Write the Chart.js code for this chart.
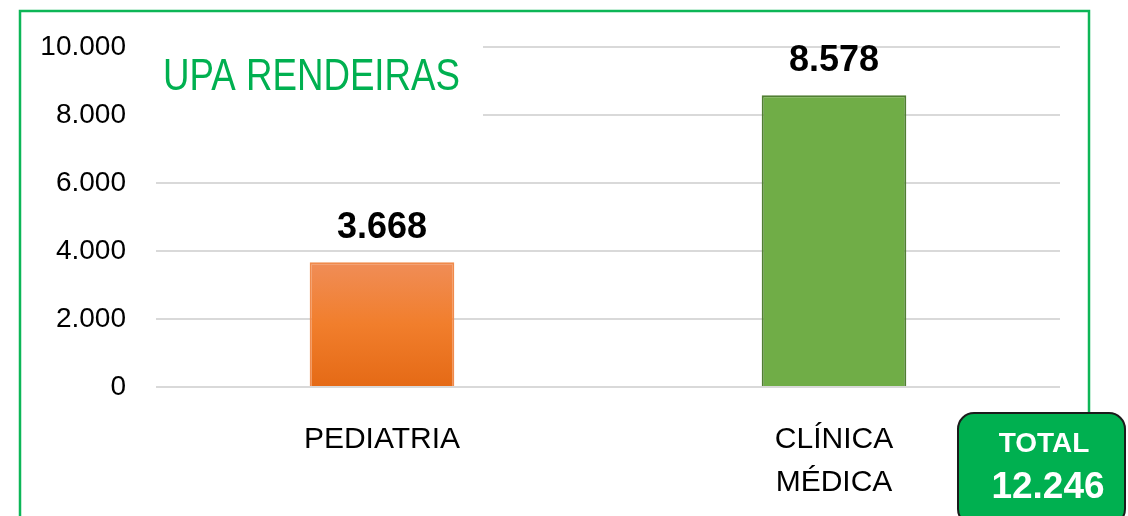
<!DOCTYPE html>
<html>
<head>
<meta charset="utf-8">
<script src="https://cdn.jsdelivr.net/npm/chart.js@4"></script>
<style>
  html, body { margin: 0; padding: 0; background: #fff; }
  #wrap { width: 1128px; height: 516px; position: relative; }
</style>
</head>
<body>
<div id="wrap"><canvas id="upaChart"></canvas></div>
<script>
var categories = [['PEDIATRIA'], ['CLÍNICA', 'MÉDICA']];
var atendimentos = [3668, 8578];
var yTicks = [0, 2000, 4000, 6000, 8000, 10000];
var chartTitle = 'UPA RENDEIRAS';
var totalLabel = 'TOTAL';

var green = '#00B050';
var fontMain = "'Liberation Sans', Arial, sans-serif";

function fmt(v) {
    return v.toLocaleString('pt-BR');
}

// moldura verde, caixa do titulo, rotulos e total
var decorPlugin = {
    id: 'decor',
    beforeDraw: function (chart) {
        var ctx = chart.ctx;
        ctx.save();
        ctx.fillStyle = '#fff';
        ctx.fillRect(0, 0, chart.width, chart.height);
        ctx.strokeStyle = '#0DB657';
        ctx.lineWidth = 2.5;
        ctx.strokeRect(20, 11, 1069, 620);
        ctx.restore();
    },
    beforeDatasetsDraw: function (chart) {
        var ctx = chart.ctx;
        var area = chart.chartArea;
        ctx.save();
        ctx.fillStyle = '#fff';
        ctx.fillRect(area.left - 2, 30, 483 - area.left + 2, 88);
        ctx.fillStyle = green;
        ctx.font = '45px ' + fontMain;
        ctx.textBaseline = 'middle';
        ctx.textAlign = 'left';
        ctx.fillText(chartTitle, 163, 78, 297);
        ctx.restore();

        // degrade da barra laranja
        var bar = chart.getDatasetMeta(0).data[0];
        if (bar && isFinite(bar.y) && isFinite(bar.base)) {
            var g = ctx.createLinearGradient(0, bar.y, 0, bar.base);
            g.addColorStop(0, '#F08D57');
            g.addColorStop(0.5, '#F17E2C');
            g.addColorStop(1, '#E56A16');
            bar.options.backgroundColor = g;
        }
    },
    afterDatasetsDraw: function (chart) {
        var ctx = chart.ctx;
        var meta = chart.getDatasetMeta(0);
        ctx.save();
        ctx.fillStyle = '#000';
        ctx.font = 'bold 36px ' + fontMain;
        ctx.textAlign = 'center';
        ctx.textBaseline = 'bottom';
        meta.data.forEach(function (bar, i) {
            ctx.fillText(fmt(atendimentos[i]), bar.x, bar.y - 16);
        });
        ctx.restore();
    },
    afterDraw: function (chart) {
        var ctx = chart.ctx;
        var total = atendimentos.reduce(function (a, b) { return a + b; }, 0);
        ctx.save();
        ctx.beginPath();
        ctx.roundRect(958, 413, 167, 112, 16);
        ctx.fillStyle = green;
        ctx.fill();
        ctx.strokeStyle = '#1b1b1b';
        ctx.lineWidth = 2;
        ctx.stroke();
        ctx.fillStyle = '#fff';
        ctx.textAlign = 'center';
        ctx.textBaseline = 'middle';
        ctx.font = 'bold 28px ' + fontMain;
        ctx.fillText(totalLabel, 1044, 444);
        ctx.font = 'bold 37px ' + fontMain;
        ctx.fillText(fmt(total), 1048, 488);
        ctx.restore();
    }
};

var ctx = document.getElementById('upaChart').getContext('2d');
var upaChart = new Chart(ctx, {
    type: 'bar',
    data: {
        labels: categories,
        datasets: [{
            data: atendimentos,
            backgroundColor: ['#F17E2C', '#70AD47'],
            borderColor: ['#F08A4B', '#507E32'],
            borderWidth: 2,
            categoryPercentage: 1,
            barPercentage: 0.32
        }]
    },
    options: {
        responsive: true,
        maintainAspectRatio: false,
        animation: false,
        events: [],
        layout: { padding: { top: 44, right: 68, left: 0, bottom: 0 } },
        plugins: {
            legend: { display: false },
            tooltip: { enabled: false },
            title: { display: false }
        },
        scales: {
            x: {
                grid: { display: false },
                border: { display: false },
                ticks: {
                    color: '#000',
                    padding: 23,
                    font: { family: fontMain, size: 30, lineHeight: 1.43 },
                    maxRotation: 0
                },
                afterFit: function (scale) { scale.height = 129; }
            },
            y: {
                min: 0,
                max: 10000,
                afterBuildTicks: function (scale) {
                    scale.ticks = yTicks.map(function (v) { return { value: v }; });
                },
                grid: { color: '#D9D9D9', lineWidth: 2, drawTicks: false },
                border: { display: false },
                ticks: {
                    color: '#000',
                    padding: 30,
                    font: { family: fontMain, size: 28 },
                    callback: function (v) { return fmt(v); }
                },
                afterFit: function (scale) { scale.width = 156; }
            }
        }
    },
    plugins: [decorPlugin]
});
</script>
</body>
</html>
